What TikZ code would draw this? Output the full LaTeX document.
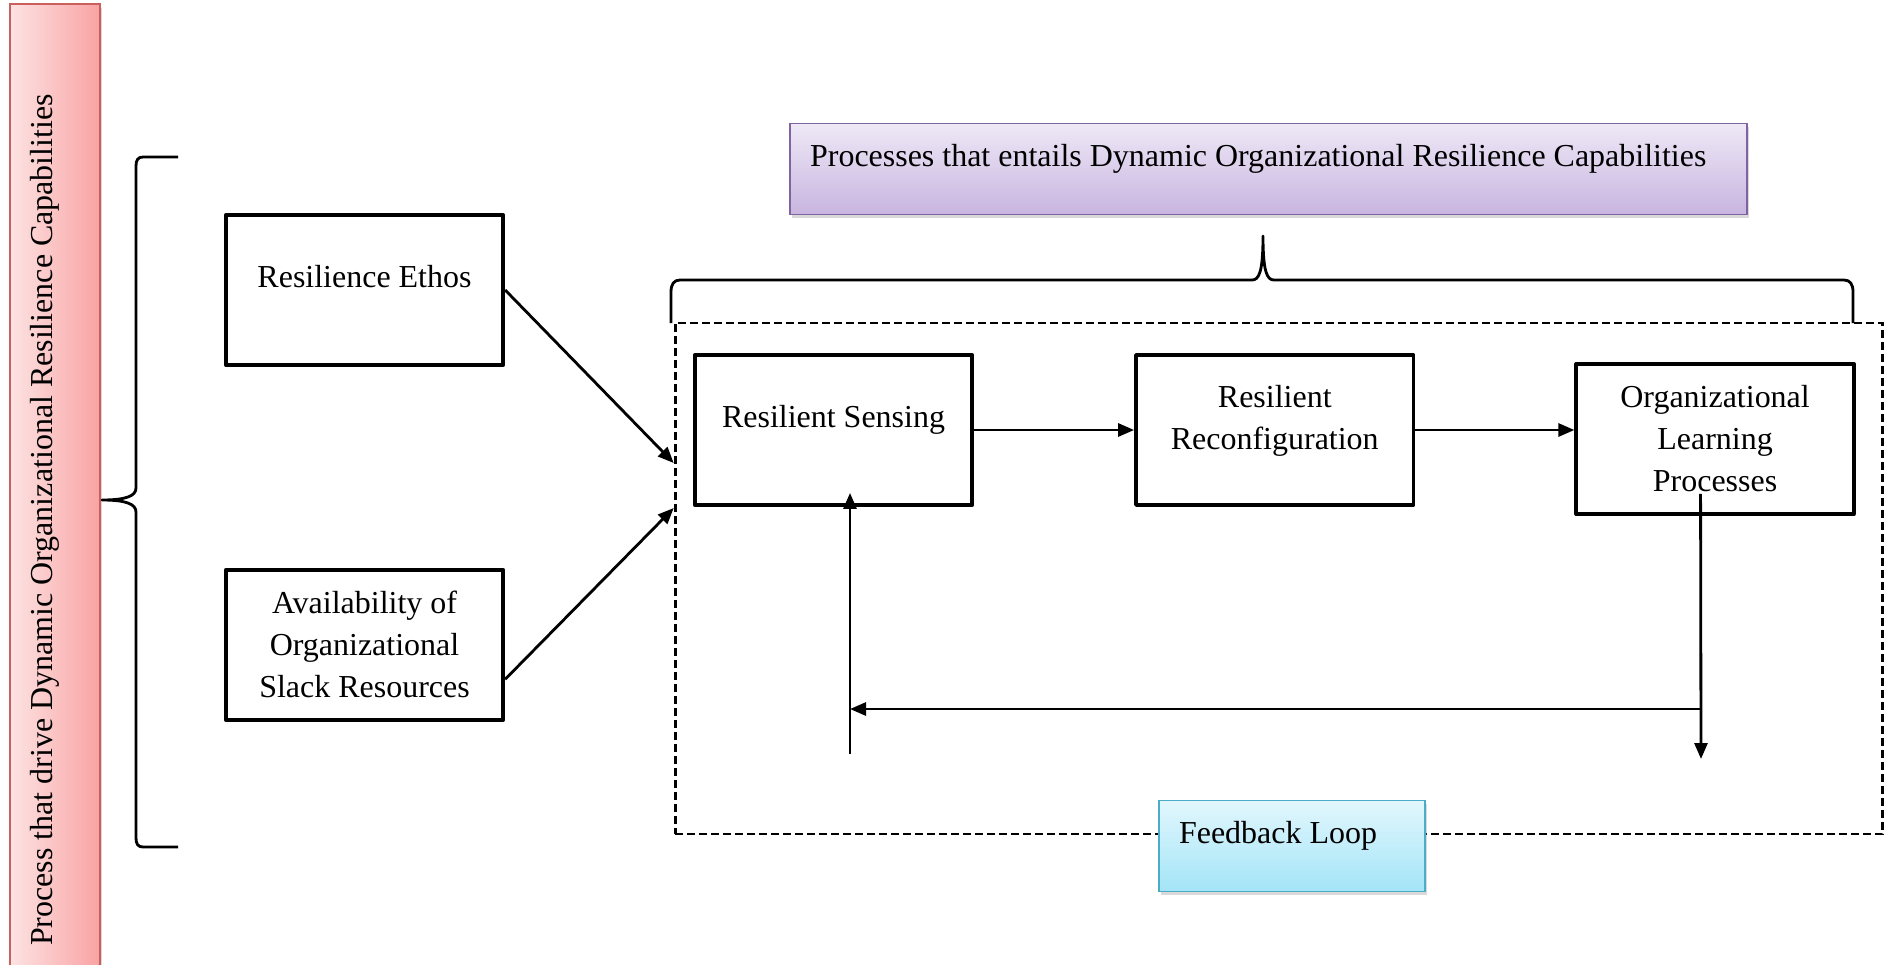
\documentclass[tikz,border=0pt]{standalone}
\usepackage{fontspec}
\setmainfont{Liberation Serif}
\usetikzlibrary{positioning, arrows.meta, shadows}

\definecolor{drvlight}{HTML}{FDE3E3}
\definecolor{drvdark}{HTML}{F9A3A3}
\definecolor{drvline}{HTML}{C9605C}
\definecolor{entlight}{HTML}{EEE8F6}
\definecolor{entdark}{HTML}{C8B5E0}
\definecolor{entline}{HTML}{8064A2}
\definecolor{fblight}{HTML}{E2F7FD}
\definecolor{fbdark}{HTML}{A3E4F7}
\definecolor{fbline}{HTML}{4BACC6}

\tikzset{
    block/.style={draw, rectangle, line width=2.2pt, line join=round, minimum width=5.55cm, minimum height=3cm, align=center},
    raised/.style={text height=0.45cm, text depth=0.56cm},
    banner/.style={draw, rectangle, line width=1pt, align=flush left, inner xsep=0.4cm, minimum height=1.82cm,
        drop shadow={shadow xshift=0.04cm, shadow yshift=-0.07cm, opacity=0.3}},
    link/.style={->, line width=1.6pt},
    curly/.style={line width=1.6pt, line join=round}
}

\begin{document}
\begin{tikzpicture}[x=0.02cm, y=-0.02cm, >={Triangle[length=0.32cm, width=0.26cm]}, font=\fontsize{18.2}{23.9}\selectfont]
    \useasboundingbox (0,0) rectangle (1890,964);

    % Drivers
    \node[banner, raised, rotate=90, draw=drvline, left color=drvlight, right color=drvdark, text width=18.44cm, minimum height=1.8cm] (drivers) at (55,485) {Process that drive Dynamic Organizational Resilience Capabilities};
    \node[block, raised] (ethos) at (364.5,290) {Resilience Ethos};
    \node[block, below=4.02cm of ethos] (slack) {Availability of\\Organizational\\Slack Resources};

    % Capabilities
    \node[draw, rectangle, dash pattern=on 0.16cm off 0.08cm, line width=1.6pt, minimum width=24.16cm, minimum height=10.22cm] (loopbox) at (1279,578.5) {};
    \node[banner, raised, draw=entline, top color=entlight, bottom color=entdark, text width=18.34cm] (entails) at (1268.5,169) {Processes that entails Dynamic Organizational Resilience Capabilities};
    \node[block, raised] (sensing) at (833.5,430) {Resilient Sensing};
    \node[block, right=3.2cm of sensing, text depth=0.52cm] (reconfig) {Resilient\\Reconfiguration};
    \node[block, right=3.18cm of reconfig, yshift=-0.18cm] (learning) {Organizational\\Learning\\Processes};
    \node[banner, raised, draw=fbline, top color=fblight, bottom color=fbdark, text width=4.52cm] (fbloop) at (1292,846) {Feedback Loop};

    % Braces
    \draw[curly] (178,157) -- (143,157) .. controls (138,157) and (136,160) .. (136,166) -- (136,488)
        .. controls (136,496) and (126,500) .. (102,500) .. controls (126,500) and (136,504) .. (136,512)
        -- (136,838) .. controls (136,844) and (138,847) .. (143,847) -- (178,847);
    \draw[curly] (671,323) -- (671,292) .. controls (671,284) and (674,280) .. (680,280) -- (1252,280)
        .. controls (1259,280) and (1263,272) .. (1263,236) .. controls (1263,272) and (1267,280) .. (1274,280)
        -- (1844,280) .. controls (1850,280) and (1853,284) .. (1853,292) -- (1853,323);

    % Arrows
    \draw[link] (ethos.east) -- ([yshift=2.31cm]loopbox.west);
    \draw[link] ([yshift=-0.69cm]slack.east) -- ([yshift=1.41cm]loopbox.west);
    \draw[link] (sensing) -- (reconfig);
    \draw[link] (reconfig.east) -- (reconfig.east -| learning.west);

    % Feedback
    \coordinate (fbout) at (1701,759);
    \coordinate (fbturn) at (1701,709);
    \coordinate (fbback) at (850,754);
    \draw[link] ([xshift=-0.29cm, yshift=-1.1cm]learning.center) -- (fbout);
    \draw[link] (fbturn) -- (fbturn -| fbback);
    \draw[link, shorten >=-0.28cm] (fbback) -- (fbback |- sensing.south);
\end{tikzpicture}
\end{document}
